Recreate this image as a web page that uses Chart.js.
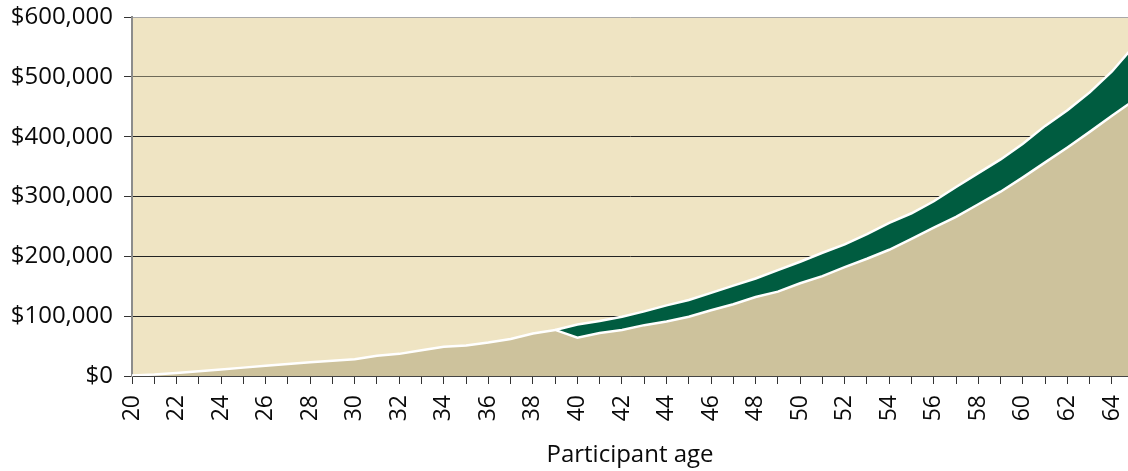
<!DOCTYPE html>
<html>
<head>
<meta charset="utf-8">
<script src="https://cdn.jsdelivr.net/npm/chart.js@4/dist/chart.umd.min.js"></script>
<style>
  html, body { margin: 0; padding: 0; background: #ffffff; }
  #wrap { width: 1128px; height: 471px; position: relative; }
</style>
</head>
<body>
<div id="wrap"><canvas id="chart"></canvas></div>
<script>
// Participant age (years)
const ages = [20, 21, 22, 23, 24, 25, 26, 27, 28, 29, 30, 31, 32, 33, 34, 35, 36, 37, 38, 39,
              40, 41, 42, 43, 44, 45, 46, 47, 48, 49, 50, 51, 52, 53, 54, 55, 56, 57, 58, 59,
              60, 61, 62, 63, 64, 65];

// Account balance, base path ($)
const baseBalance = [1000, 2500, 5000, 8000, 11000, 14000, 17000, 20000, 23000, 25500,
                     28000, 34000, 37000, 43000, 49000, 51000, 56000, 62000, 71000, 77000,
                     64000, 72000, 77000, 85000, 91000, 99000, 110000, 120000, 132000, 141000,
                     155000, 167000, 182000, 196000, 211000, 229000, 248000, 266000, 287000, 308000,
                     332000, 357000, 382000, 408000, 435000, 461000];

// Account balance, alternative path ($), starting at age 39
const altBalance = [null, null, null, null, null, null, null, null, null, null,
                    null, null, null, null, null, null, null, null, null, 77000,
                    86000, 92000, 99000, 108000, 118000, 127000, 139000, 151000, 163000, 177000,
                    191000, 206000, 220000, 237000, 256000, 272000, 292000, 316000, 339000, 362000,
                    388000, 418000, 444000, 474000, 509000, 552000];

// Y-axis tick values
const yTicks = [0, 100000, 200000, 300000, 400000, 500000, 600000];

const toPoints = vals => ages.map((a, i) => ({ x: a, y: vals[i] }));

const plotBackground = {
  id: 'plotBackground',
  beforeDraw(chart) {
    const { ctx, chartArea: a } = chart;
    ctx.save();
    ctx.fillStyle = '#EFE4C3';
    ctx.fillRect(a.left, a.top, a.right - a.left, a.bottom - a.top);
    ctx.restore();
  }
};

const FONT = "'Open Sans', 'Noto Sans', sans-serif";

new Chart(document.getElementById('chart'), {
  type: 'line',
  data: {
    datasets: [
      {
        label: 'Base',
        data: toPoints(baseBalance),
        borderColor: '#ffffff',
        borderWidth: 2.5,
        backgroundColor: '#CDC29C',
        fill: 'origin',
        pointRadius: 0,
        tension: 0
      },
      {
        label: 'Alternative',
        data: toPoints(altBalance),
        borderColor: '#ffffff',
        borderWidth: 2.5,
        backgroundColor: '#005C40',
        fill: '-1',
        pointRadius: 0,
        tension: 0,
        spanGaps: false
      }
    ]
  },
  options: {
    responsive: true,
    maintainAspectRatio: false,
    animation: false,
    devicePixelRatio: 1,
    layout: { padding: { top: 17, right: 0, left: 0, bottom: 0 } },
    plugins: {
      legend: { display: false },
      tooltip: { enabled: false }
    },
    scales: {
      x: {
        type: 'linear',
        min: 20,
        max: 64.72,
        afterFit(axis) {
          axis.height = 95;
          axis.paddingLeft = 0;
          axis.paddingRight = 0;
        },
        grid: {
          display: true,
          drawOnChartArea: false,
          drawTicks: true,
          tickLength: 8,
          color: '#333333',
          lineWidth: 1
        },
        border: { display: true, color: '#444444', width: 1 },
        ticks: {
          stepSize: 1,
          includeBounds: false,
          autoSkip: false,
          maxRotation: 90,
          minRotation: 90,
          padding: 11,
          color: '#0a0a0a',
          font: { family: FONT, size: 23 },
          callback: v => (v % 2 === 0 ? String(v) : '')
        },
        title: {
          display: true,
          text: 'Participant age',
          color: '#0a0a0a',
          font: { family: FONT, size: 24 },
          padding: { top: 0, bottom: 1 }
        }
      },
      y: {
        min: 0,
        max: 600000,
        afterFit(axis) {
          axis.width = 132;
          axis.paddingTop = 0;
          axis.paddingBottom = 0;
        },
        afterBuildTicks(axis) { axis.ticks = yTicks.map(v => ({ value: v })); },
        grid: {
          drawTicks: true,
          tickLength: 8,
          color: ctx => {
            const v = ctx.tick ? ctx.tick.value : 0;
            if (v === 600000) return '#A8A8A8';
            if (v === 500000) return '#6E6A58';
            return '#222222';
          },
          tickColor: '#333333',
          lineWidth: 1
        },
        border: { display: true, color: '#8C8C8C', width: 2 },
        ticks: {
          padding: 11,
          color: '#0a0a0a',
          font: { family: FONT, size: 24 },
          callback: v => '$' + Number(v).toLocaleString('en-US')
        }
      }
    }
  },
  plugins: [plotBackground]
});
</script>
</body>
</html>
